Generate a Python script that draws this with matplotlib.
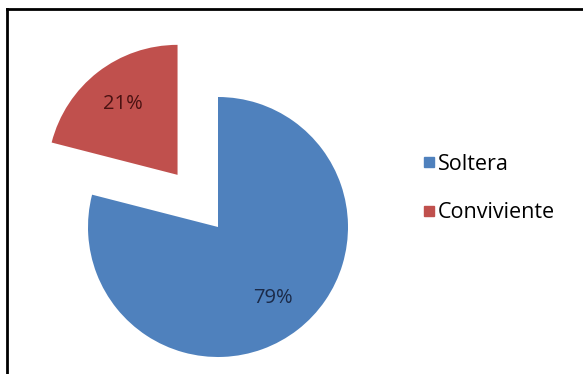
import matplotlib.pyplot as plt
from matplotlib.lines import Line2D

labels = ['Soltera', 'Conviviente']
values = [79, 21]
colors = ['#4F81BD', '#C0504D']
pct_colors = ['#1b2a48', '#4a1212']

plt.rcParams['font.family'] = ['Open Sans', 'DejaVu Sans']

fig = plt.figure(figsize=(5.83, 3.74), dpi=100)
ax = fig.add_axes([0, 0, 1, 1])

radius = 130
explode = [0, 66]
wedges, _, autotexts = ax.pie(values, colors=colors, explode=explode, radius=radius,
                              center=(218, 147), startangle=90, counterclock=False,
                              autopct='%d%%', pctdistance=0.69, frame=True,
                              wedgeprops=dict(linewidth=0),
                              textprops=dict(fontsize=14.5))
for t, c in zip(autotexts, pct_colors):
    t.set_color(c)
ax.set_xlim(0, 583)
ax.set_ylim(0, 374)
ax.set_aspect('equal')
ax.axis('off')

handles = [Line2D([], [], marker='s', linestyle='', markersize=7, color=c) for c in colors]
ax.legend(handles, labels, loc='center left', bbox_to_anchor=(0.70, 0.496),
          frameon=False, fontsize=15.5, labelspacing=1.3, handletextpad=0.0,
          handlelength=0.9, borderpad=0)

# chart border (top and left edges visible)
fig.add_artist(Line2D([0.012, 1], [0.975, 0.975], color='black', lw=2, transform=fig.transFigure))
fig.add_artist(Line2D([0.012, 0.012], [0, 0.975], color='black', lw=2, transform=fig.transFigure))

plt.savefig('out.png', dpi=100)
plt.close()
